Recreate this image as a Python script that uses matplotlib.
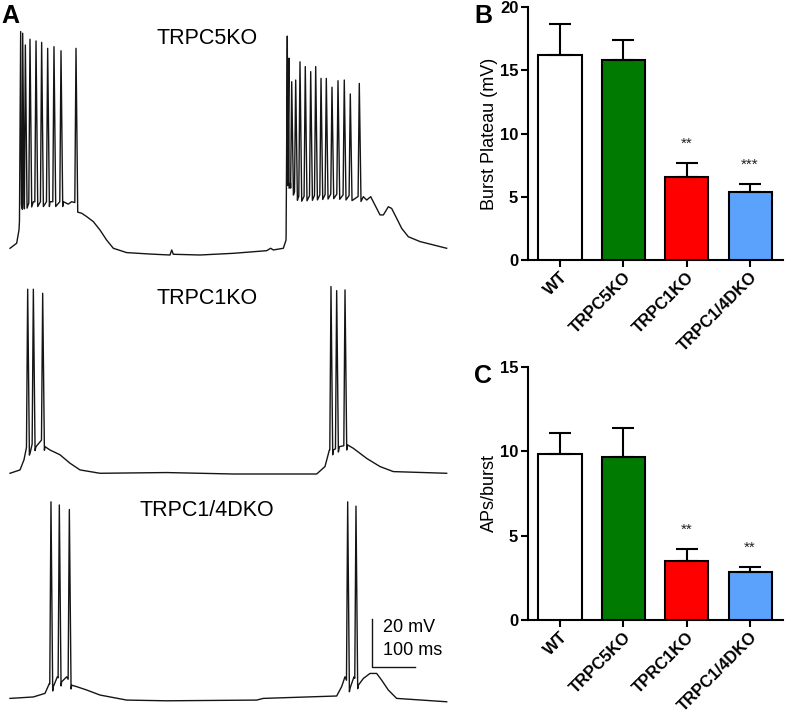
import numpy as np
import matplotlib
matplotlib.use('Agg')
import matplotlib.pyplot as plt

plt.rcParams['font.family'] = ['Liberation Sans', 'DejaVu Sans']

# ---- Panel A: membrane potential traces (ms, mV) ----
# TRPC5KO
c5_base_t = [0, 15.5, 20.9, 24.0, 54.3, 93.0, 124.0, 135.6, 143.4, 152.0, 156.6, 166.7, 178.3,
             193.8, 209.3, 224.8, 240.3, 271.3, 325.6, 372.1, 376.0, 379.8, 441.9, 519.4, 596.9,
             606.2, 612.4, 635.7, 641.9, 644.2, 651.2, 659.0, 670.6, 752.0, 814.0, 821.7, 829.5,
             838.8, 848.8, 860.5, 868.3, 879.8, 887.6, 899.2, 910.9, 926.4, 953.5, 984.5, 1015.5]
c5_base_v = [-57.2, -55.1, -49.6, -39.2, -37.8, -37.8, -37.8, -38.8, -37.8, -38.2, -39.9, -42.6, -44.0,
             -46.1, -49.6, -53.8, -57.2, -59.0, -59.6, -60.0, -57.9, -59.7, -60.0, -59.3, -58.2,
             -57.2, -57.9, -57.2, -53.8, -31.5, -29.5, -33.0, -35.7, -34.5, -35.7, -35.7, -37.1,
             -35.7, -39.2, -43.3, -43.3, -39.9, -40.6, -44.7, -48.9, -52.4, -54.4, -55.8, -57.2]
c5_spike_t = [24.8, 29.5, 35.7, 46.5, 60.5, 73.6, 87.6, 102.3, 118.6, 153.5,
              644.9, 648.6, 655.1, 664.4, 674.4, 686.7, 699.3, 710.9, 723.3, 735.6,
              748.8, 762.8, 777.4, 791.4, 812.3]
c5_spike_v = [33.1, 32.4, 27.5, 29.9, 29.2, 28.6, 26.1, 26.8, 25.1, 26.1,
              31.2, 22.0, 12.2, 12.9, 20.5, 18.5, 16.4, 18.5, 13.6, 13.6,
              9.9, 12.6, 12.9, 7.1, 11.5]

# TRPC1KO
c1_base_t = [0, 23.3, 32.5, 38.7, 47.5, 51.9, 60.5, 73.6, 81.4, 93.0, 116.3, 139.5, 162.8, 209.3,
             364.3, 519.4, 713.2, 732.5, 742.7, 752.0, 765.9, 785.3, 798.5, 829.5, 860.5, 891.5, 1015.5]
c1_base_v = [-60.0, -58.6, -54.4, -48.9, -51.0, -47.5, -48.9, -46.1, -48.9, -50.3, -52.3, -55.8, -58.6, -60.0,
             -59.7, -60.3, -60.3, -57.2, -50.3, -50.3, -48.9, -48.2, -49.6, -53.8, -57.2, -59.3, -60.0]
c1_spike_t = [41.1, 54.3, 76.0, 746.5, 759.7, 779.1]
c1_spike_v = [16.7, 16.7, 15.0, 17.8, 16.1, 16.4]

# TRPC1/4DKO
dko_base_t = [0, 54.2, 81.4, 91.5, 100.8, 110.1, 120.1, 131.8, 143.4, 155.0, 178.3, 209.3, 271.3,
              364.3, 573.6, 589.1, 759.7, 771.3, 779.0, 790.7, 800.0, 810.1, 821.7, 837.2, 852.7,
              864.3, 879.8, 899.2, 1015.5]
dko_base_v = [-58.6, -58.0, -56.5, -52.4, -53.7, -49.6, -51.7, -49.6, -53.1, -53.7, -55.1, -57.2, -59.3,
              -59.6, -59.3, -58.6, -57.6, -53.7, -49.6, -54.4, -49.6, -53.1, -50.3, -48.2, -48.2,
              -51.0, -55.1, -58.6, -60.0]
dko_spike_t = [95.3, 114.7, 138.0, 785.3, 804.6]
dko_spike_v = [23.3, 22.0, 20.1, 23.3, 21.5]

# ---- Panels B and C ----
groups_b = ['WT', 'TRPC5KO', 'TRPC1KO', 'TRPC1/4DKO']
groups_c = ['WT', 'TRPC5KO', 'TPRC1KO', 'TRPC1/4DKO']
plateau = [16.2, 15.8, 6.6, 5.36]
plateau_err = [2.45, 1.6, 1.05, 0.62]
plateau_sig = ['', '', '**', '***']
aps = [9.86, 9.66, 3.47, 2.83]
aps_err = [1.23, 1.72, 0.73, 0.30]
aps_sig = ['', '', '**', '**']
bar_colors = ['white', '#007a00', '#ff0000', '#5aa2fb']


def build_trace(bt, bv, st, sv, rise=2.8, fall=4.0, ahp=2.0):
    bt = np.asarray(bt, float)
    bv = np.asarray(bv, float)
    keep = np.ones(len(bt), bool)
    for s in st:
        keep &= ~((bt > s - rise) & (bt < s + fall))
    t = list(bt[keep])
    v = list(bv[keep])
    for s, p in zip(st, sv):
        t += [s - rise, s, s + fall]
        v += [np.interp(s - rise, bt, bv), p, np.interp(s + fall, bt, bv) - ahp]
    order = np.argsort(t, kind='stable')
    return np.array(t)[order], np.array(v)[order]


fig = plt.figure(figsize=(7.85, 7.15), dpi=100)

# panel A in pixel-matched units: 0.43 px/ms, 2.4 px/mV
axA = fig.add_axes([0, 0, 460 / 785, 1])
axA.set_xlim(-10 / 0.43, 450 / 0.43)
axA.set_ylim(-715 / 2.4, 0)
axA.axis('off')

traces = [
    (c5_base_t, c5_base_v, c5_spike_t, c5_spike_v, -46.25, 'TRPC5KO', -39 / 2.4),
    (c1_base_t, c1_base_v, c1_spike_t, c1_spike_v, -137.2, 'TRPC1KO', -299 / 2.4),
    (dko_base_t, dko_base_v, dko_spike_t, dko_spike_v, -232.4, 'TRPC1/4DKO', -511 / 2.4),
]
for bt, bv, st, sv, off, name, ty in traces:
    t, v = build_trace(bt, bv, st, sv)
    axA.plot(t, v + off, color='#151515', lw=1.0)
    axA.text(197 / 0.43, ty, name, ha='center', va='center', fontsize=15.5)

# scale bar 20 mV / 100 ms
sx = 362 / 0.43
sy = -667 / 2.4
axA.plot([sx, sx, sx + 100], [sy + 20, sy, sy], color='#151515', lw=1.0)
axA.text(sx + 25, sy + 16.5, '20 mV', ha='left', va='center', fontsize=13)
axA.text(sx + 25, sy + 7, '100 ms', ha='left', va='center', fontsize=13)
fig.text(1 / 785, 1 - 16 / 715, 'A', fontsize=18, fontweight='bold', va='center', ha='left')


def bar_panel(ax, labels, vals, errs, sig, ymax, ylabel):
    x = np.arange(len(vals))
    ax.bar(x, vals, width=0.68, color=bar_colors, edgecolor='black', linewidth=1.5,
           yerr=[np.zeros(len(errs)), errs], capsize=8,
           error_kw=dict(elinewidth=1.5, capthick=1.5, ecolor='black'), zorder=3)
    for xi, v, e, s in zip(x, vals, errs, sig):
        if s:
            ax.annotate(s, (xi, v + e), xytext=(0, 14), textcoords='offset points',
                        ha='center', va='center', fontsize=11, color='#222222')
    ax.set_xlim(-0.505, 3.52)
    ax.set_ylim(0, ymax)
    ax.set_yticks(np.arange(0, ymax + 1, 5))
    ax.set_xticks(x)
    ax.set_xticklabels(labels, rotation=45, ha='right', rotation_mode='anchor',
                       fontweight='bold', fontsize=12)
    for lab in ax.get_yticklabels():
        lab.set_fontweight('bold')
        lab.set_fontsize(12)
    ax.set_ylabel(ylabel, fontsize=13, labelpad=1)
    for side in ['top', 'right']:
        ax.spines[side].set_visible(False)
    for side in ['left', 'bottom']:
        ax.spines[side].set_linewidth(1.5)
    ax.tick_params(width=1.5, length=5, direction='out', pad=2)


axB = fig.add_axes([528 / 785, 1 - 260 / 715, 255 / 785, 253 / 715])
bar_panel(axB, groups_b, plateau, plateau_err, plateau_sig, 20, 'Burst Plateau (mV)')
fig.text(474 / 785, 1 - 16 / 715, 'B', fontsize=18, fontweight='bold', va='center', ha='left')

axC = fig.add_axes([528 / 785, 1 - 620 / 715, 255 / 785, 253 / 715])
bar_panel(axC, groups_c, aps, aps_err, aps_sig, 15, 'APs/burst')
fig.text(474 / 785, 1 - 376 / 715, 'C', fontsize=18, fontweight='bold', va='center', ha='left')

fig.savefig('out.png', dpi=100)
